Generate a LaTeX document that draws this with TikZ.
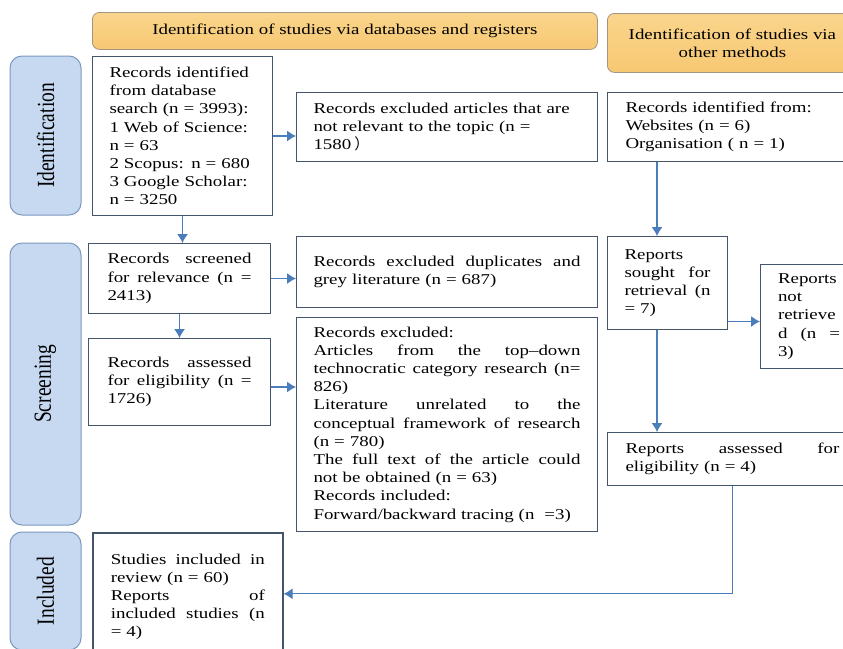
\documentclass[tikz,border=0pt]{standalone}
\usepackage{fontspec}
\setmainfont{Liberation Serif}[FakeStretch=1.26]
\newfontfamily\sidefont{Liberation Serif}[FakeStretch=0.79]
\newfontfamily\cjk{Noto Sans CJK SC}
\usetikzlibrary{arrows.meta,positioning}
\definecolor{boxline}{HTML}{44546A}
\definecolor{arrowblue}{HTML}{4A7EBB}
\definecolor{sidefill}{HTML}{C6D9F1}
\definecolor{sideline}{HTML}{7D98BD}
\definecolor{headtop}{HTML}{F9D58C}
\definecolor{headmid}{HTML}{FDEBC6}
\definecolor{headbot}{HTML}{F8C873}
\definecolor{headline}{HTML}{A39580}
\hyphenpenalty=10000

\begin{document}
\begin{tikzpicture}[x=1pt,y=-1pt,every node/.style={font=\fontsize{15}{18.2}\selectfont,inner sep=0pt,text=black},
box/.style={draw=boxline,line width=1pt,fill=white,anchor=north west,align=left},
head/.style={draw=headline,rounded corners=7pt,line width=0.8pt,top color=headtop,middle color=headmid,bottom color=headbot,anchor=north west,align=center},
side/.style={draw=sideline,line width=1pt,fill=sidefill,rounded corners=12pt,rotate=90,font=\sidefont\fontsize{24.6}{28}\selectfont},
arrow/.style={-{Latex[length=9pt,width=11pt]},line width=1.1pt,draw=arrowblue}]
\useasboundingbox (0,0) rectangle (843,648);
\fill[white] (0,0) rectangle (843,648);
\node[head,minimum width=505pt,minimum height=37pt] (hda) at (92,12) {Identification of studies via databases and registers};
\node[head,minimum width=250pt,minimum height=59pt] (hdb) at (607,13) {Identification of studies via\\other methods};
\node[side,minimum width=159pt,minimum height=71pt] (idn) at (45.5,135.5) {Identification};
\node[side,minimum width=282pt,minimum height=71pt] (scn) at (45.5,384) {Screening};
\node[side,minimum width=118pt,minimum height=71pt] (inn) at (45.5,591) {Included};
\node[box,minimum width=180pt,minimum height=159pt,text width=146pt] (rec) at (92,56) {Records identified\\from database\\search (n = 3993):\\1 Web of Science:\\n = 63\\2 Scopus: n = 680\\3 Google Scholar:\\n = 3250};
\node[box,minimum width=301pt,minimum height=69pt,text width=267pt] (exc1) at (296,92) {Records excluded articles that are\\not relevant to the topic (n =\\1580\hspace{3pt}{\cjk ）}};
\node[box,minimum width=250pt,minimum height=69pt,text width=214pt] (oth) at (607,92) {Records identified from:\\Websites (n = 6)\\Organisation ( n = 1)};
\node[box,minimum width=182pt,minimum height=70pt,text width=144pt] (scr) at (88,243) {Records\hfill screened\\for\hfill relevance\hfill (n\hfill =\\2413)};
\node[box,minimum width=301pt,minimum height=71pt,text width=267pt] (exc2) at (296,236) {Records\hfill excluded\hfill duplicates\hfill and\\grey literature (n = 687)};
\node[box,minimum width=120pt,minimum height=93pt,text width=86pt] (sought) at (607,236) {Reports\\sought\hfill for\\retrieval\hfill (n\\= 7)};
\node[box,minimum width=97pt,minimum height=104pt,text width=62pt] (notret) at (760,264) {Reports\\not\\retrieve\\d\hfill (n\hfill =\\3)};
\node[box,minimum width=182pt,minimum height=87pt,text width=144pt] (ass) at (88,338) {Records\hfill assessed\\for\hfill eligibility\hfill (n\hfill =\\1726)};
\node[box,minimum width=301pt,minimum height=214pt,text width=267pt] (exc3) at (296,317) {Records excluded:\\Articles\hfill from\hfill the\hfill top–down\\technocratic\hfill category\hfill research\hfill (n=\\826)\\Literature\hfill unrelated\hfill to\hfill the\\conceptual\hfill framework\hfill of\hfill research\\(n = 780)\\The\hfill full\hfill text\hfill of\hfill the\hfill article\hfill could\\not be obtained (n = 63)\\Records included:\\Forward/backward tracing (n\ \ =3)};
\node[box,minimum width=250pt,minimum height=53pt,text width=214pt] (rass) at (607,432) {Reports\hfill assessed\hfill for\\eligibility (n = 4)};
\node[box,line width=1.6pt,minimum width=190pt,minimum height=128pt,text width=154pt] (inc) at (92,532) {Studies\hfill included\hfill in\\review (n = 60)\\Reports\hfill of\\included\hfill studies\hfill (n\\= 4)};
\coordinate (sx) at (657,0);
\draw[arrow] (rec.south)--(rec.south |- scr.north);\draw[arrow] (rec.east)--(rec.east -| exc1.west);
\draw[arrow] (scr.south)--(scr.south |- ass.north);\draw[arrow] (scr.east)--(scr.east -| exc2.west);
\draw[arrow] ([yshift=-5pt]ass.east)--([yshift=-5pt]ass.east -| exc3.west);
\draw[arrow] (sx |- oth.south)--(sx |- sought.north);\draw[arrow] (sx |- sought.south)--(sx |- rass.north);
\draw[arrow] ([yshift=-5pt]notret.west -| sought.east)--([yshift=-5pt]notret.west);
\draw[arrow] (rass.south) |- ([yshift=3pt]inc.east);
\end{tikzpicture}
\end{document}
